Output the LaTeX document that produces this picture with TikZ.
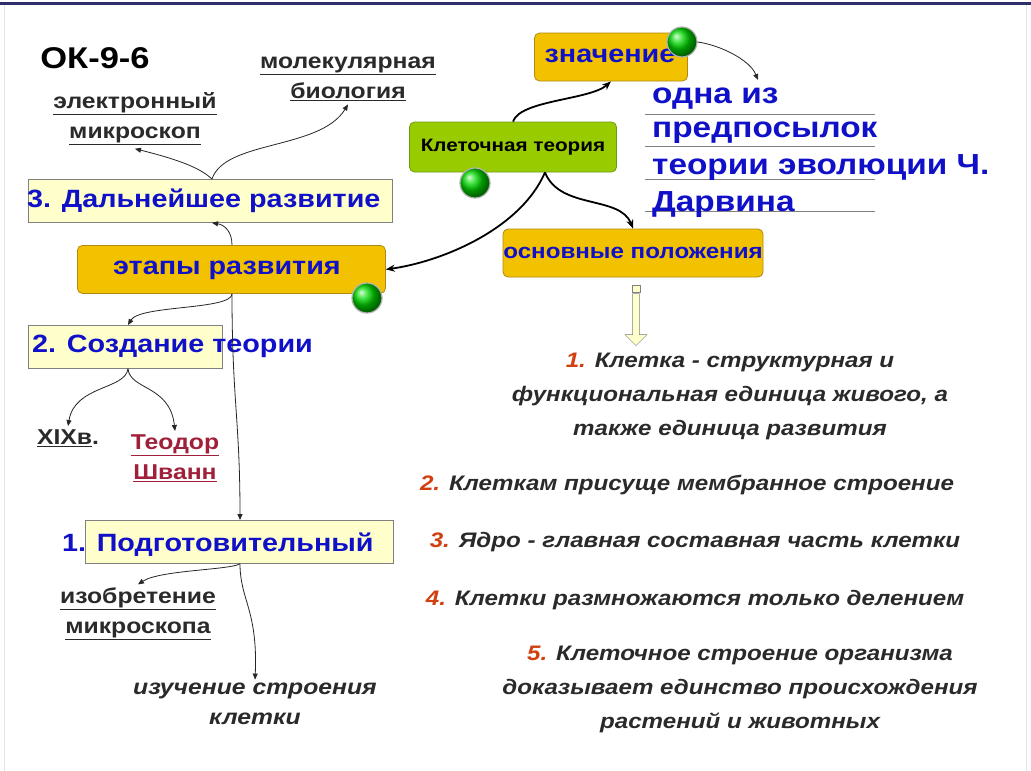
\documentclass[tikz,border=0pt]{standalone}
\usepackage{fontspec}
\setmainfont{Liberation Sans}[FakeStretch=1.15]
\usetikzlibrary{arrows.meta,shapes.arrows}
\definecolor{lblue}{HTML}{1010C8}
\definecolor{gold}{HTML}{F2C200}
\definecolor{golde}{HTML}{B08A10}
\definecolor{pale}{HTML}{FFFFCC}
\definecolor{leaf}{HTML}{99CC00}
\definecolor{leafe}{HTML}{6E9A10}
\definecolor{numred}{HTML}{D04010}
\definecolor{txt}{HTML}{2A2A2A}
\definecolor{wine}{HTML}{A0203A}
\tikzset{
 x=1pt,y=-1pt,
 palebox/.style={draw=gray,fill=pale,line width=0.8pt,minimum height=43pt,inner sep=0pt},
 goldbox/.style={draw=golde,fill=gold,rounded corners=5pt,line width=0.8pt,minimum height=48pt,inner sep=0pt},
 bluetxt/.style={text=lblue,font=\fontsize{25}{27}\selectfont\bfseries,inner sep=0pt},
 ball/.style={circle,minimum size=30pt,inner sep=0pt,draw=gray!60,line width=1.2pt,ball color=green!85!black},
 ul/.style={font=\fontsize{21.5}{30}\selectfont\bfseries,text=txt,align=center},
 thin/.style={draw=gray!30!black,line width=0.8pt,-{Triangle[length=6pt,width=5pt]}},
 thick/.style={draw=black,line width=1.8pt,-{Stealth[length=9pt,width=7pt]}},
 item/.style={font=\fontsize{21}{34}\selectfont\bfseries\itshape,text=txt,align=center},
}
\newcommand{\uln}[1]{\underline{#1}}
\newcommand{\nm}[1]{\textcolor{numred}{#1}}
\begin{document}
\begin{tikzpicture}
\useasboundingbox (0,0) rectangle (1031,771);
\fill[white] (0,0) rectangle (1031,771);
\draw[color=gray!60!blue!60!black,line width=3pt] (0,3) -- (1031,3);
\draw[gray!20,line width=1pt] (4,5) -- (4,771);
\draw[gray!20,line width=1pt] (1026,5) -- (1026,771);

\node (ok) at (95,58) {\fontsize{30}{32}\selectfont\bfseries ОК-9-6};
\node[ul] (em) at (135,119) {\uln{электронный}\\\uln{микроскоп}};
\node[ul] (mb) at (348,79) {\uln{молекулярная}\\\uln{биология}};

\node[palebox,minimum width=364pt,anchor=north west] (b3) at (28,179) {};
\node[bluetxt,anchor=west] (t3) at (27,201) {3. Дальнейшее развитие};

\node[goldbox,minimum width=308pt,anchor=north west] (et) at (77,245) {};
\node[bluetxt] at (227,270) {этапы развития};
\node[ball] (g1) at (367,298) {};

\node[palebox,minimum width=194pt,anchor=north west] (b2) at (28,325) {};
\node[bluetxt,anchor=west] (t2) at (32,346) {2. Создание теории};

\node[ul] (xix) at (68,438) {\uln{XIXв}.};
\node[ul,text=wine] (ts) at (175,458) {\uln{Теодор}\\\uln{Шванн}};

\node[palebox,minimum width=308pt,anchor=north west] (b1) at (85,520) {};
\node[bluetxt,anchor=west] (t1) at (62,545) {1. Подготовительный};

\node[ul] (iz) at (138,614) {\uln{изобретение}\\\uln{микроскопа}};
\node[ul,font=\fontsize{21.5}{30}\selectfont\bfseries\itshape] (st) at (255,704) {изучение строения\\клетки};

\node[draw=leafe,fill=leaf,rounded corners=5pt,line width=0.8pt,minimum width=207pt,minimum height=50pt,font=\fontsize{18}{20}\selectfont\bfseries] (kt) at (513,147) {Клеточная теория};
\node[ball] (g2) at (475,183) {};

\node[goldbox,minimum width=153pt] (zn) at (611,57) {};
\node[bluetxt] at (610,56) {значение};
\node[ball] (g3) at (682,42) {};

\node[goldbox,minimum width=260pt] (op) at (633,253) {};
\node[bluetxt,font=\fontsize{21}{23}\selectfont\bfseries] at (633,253) {основные положения};

\foreach \yy in {114,146,179,211} \draw[gray,line width=1pt] (645,\yy) -- (875,\yy);
\tikzset{rtxt/.style={bluetxt,font=\fontsize{29}{31}\selectfont\bfseries,anchor=west}}
\node[rtxt] at (652,99) {одна из};
\node[rtxt] at (652,133) {предпосылок};
\node[rtxt] at (652,168) {теории эволюции Ч.};
\node[rtxt] at (652,205) {Дарвина};
\coordinate (znend) at (758,80);

\node[single arrow,shape border rotate=270,draw=gray,fill=pale,minimum height=52pt,minimum width=22pt,single arrow head extend=5pt,single arrow tip angle=90,inner sep=2pt] (da) at (636,318) {};
\fill[pale,draw=gray] (632,285) rectangle (640,292);

\node[item] (i1) at (730,396) {\nm{1.} Клетка - структурная и\\функциональная единица живого, а\\также единица развития};
\node[item] (i2) at (687,485) {\nm{2.} Клеткам присуще мембранное строение};
\node[item] (i3) at (695,542) {\nm{3.} Ядро - главная составная часть клетки};
\node[item] (i4) at (695,600) {\nm{4.} Клетки размножаются только делением};
\node[item] (i5) at (740,689) {\nm{5.} Клеточное строение организма\\доказывает единство происхождения\\растений и животных};

% connectors
\draw[thick] (kt.south) ++(32,0) .. controls (520,230) and (440,262) .. (et.east);
\draw[thick] (kt.north) .. controls (520,100) and (590,100) .. (zn.south);
\draw[thick] (kt.south) ++(32,0) .. controls (560,210) and (620,195) .. (op.north);
\draw[thin] (g3.east) .. controls (720,45) and (750,60) .. (znend);
\draw[thin] (232,245) .. controls (232,232) and (225,225) .. (b3.south -| 212,0);
\draw[thin] (b3.north -| 212,0) .. controls (200,168) and (180,160) .. (em.south);
\draw[thin] (b3.north -| 212,0) .. controls (225,140) and (320,150) .. (mb.south);
\draw[thin] (et.south -| 232,0) .. controls (232,310) and (140,305) .. (b2.north -| 128,0);
\draw[thin] (et.south -| 232,0) .. controls (232,400) and (240,420) .. (b1.north -| 240,0);
\draw[thin] (b2.south -| 128,0) .. controls (125,390) and (75,385) .. (xix.north);
\draw[thin] (b2.south -| 128,0) .. controls (130,390) and (170,385) .. (ts.north);
\draw[thin] (b1.south -| 240,0) .. controls (230,570) and (160,570) .. (iz.north);
\draw[thin] (b1.south -| 240,0) .. controls (240,600) and (258,610) .. (st.north);
\end{tikzpicture}
\end{document}
